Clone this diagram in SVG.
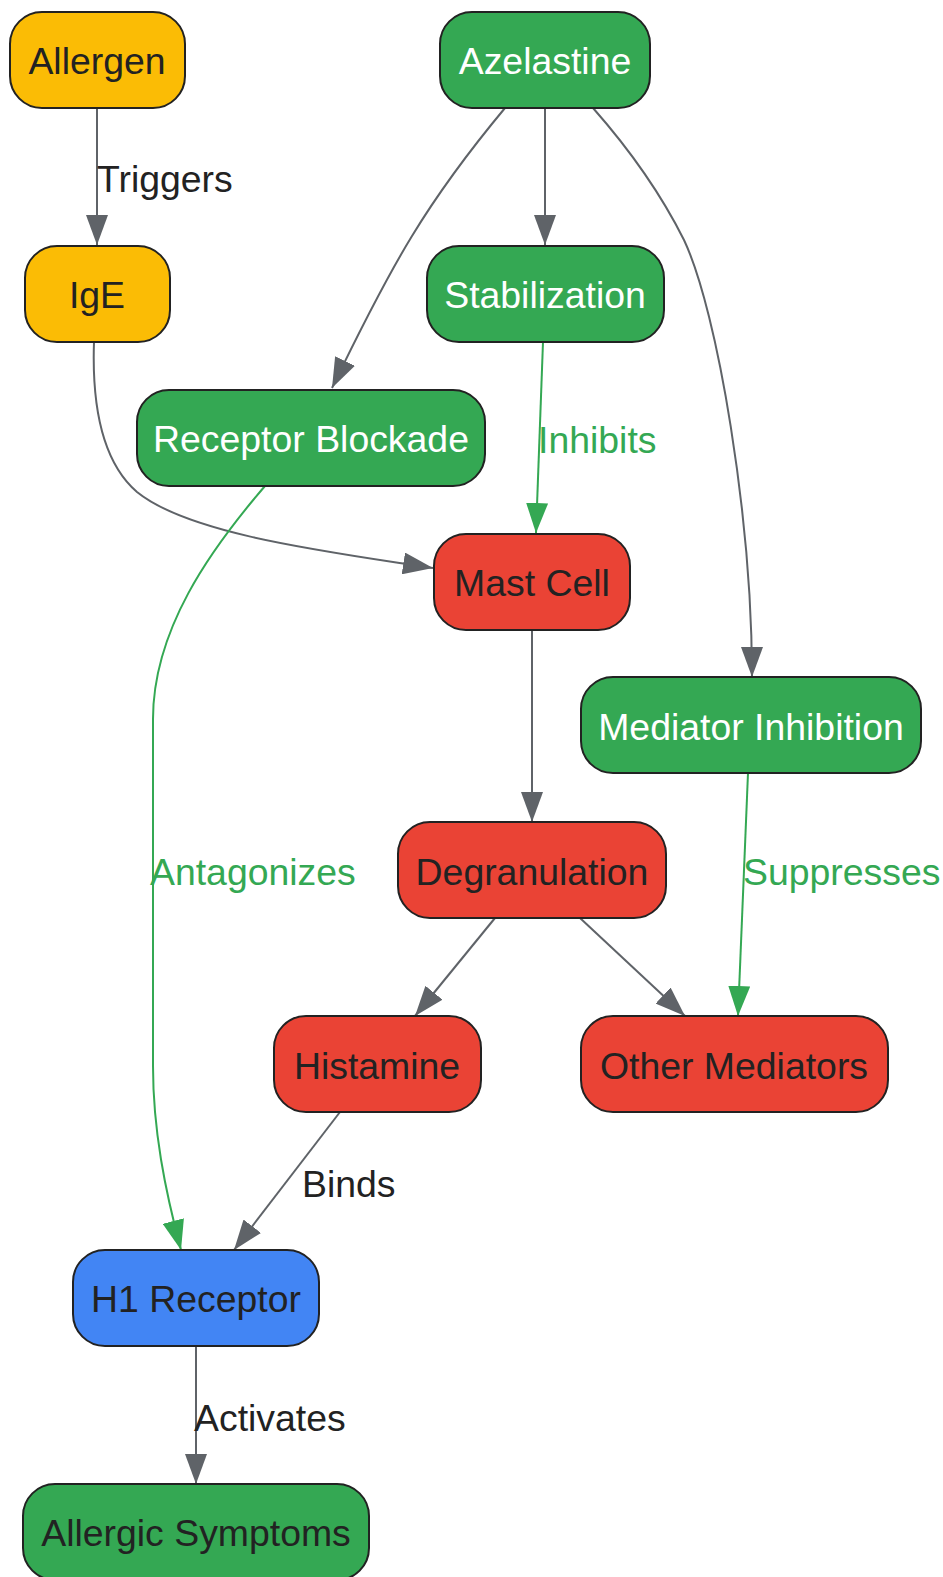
<svg xmlns="http://www.w3.org/2000/svg" width="943" height="1577" viewBox="0 0 943 1577">
<defs>
<style>
.n rect{stroke:#222;stroke-width:2}
.y rect{fill:#FBBC05}.g rect{fill:#34A853}.r rect{fill:#EA4335}.b rect{fill:#4285F4}
text{font-family:"Liberation Sans",Arial,sans-serif;font-size:37.4px}
.n text{text-anchor:middle;fill:#222}
.n.w text{fill:#fff}
.e{fill:none;stroke:#5F6368;stroke-width:2}
.eg{fill:none;stroke:#34A853;stroke-width:2}
.l{fill:#222}.lg{fill:#34A853}
</style>
<marker id="ag" markerUnits="userSpaceOnUse" markerWidth="30" markerHeight="22" refX="30" refY="11" orient="auto"><path d="M0,0L30,11L0,22z" fill="#5F6368"/></marker>
<marker id="agr" markerUnits="userSpaceOnUse" markerWidth="30" markerHeight="22" refX="30" refY="11" orient="auto"><path d="M0,0L30,11L0,22z" fill="#34A853"/></marker>
</defs>
<rect width="943" height="1577" fill="#fff"/>
<g id="connectors">
<path class="e" marker-end="url(#ag)" d="M97,108L97,245"/>
<path class="e" marker-end="url(#ag)" d="M545,108L545,245"/>
<path class="e" marker-end="url(#ag)" d="M505,108C470,150 440,190 412,236C390,272 360,330 332,388"/>
<path class="e" marker-end="url(#ag)" d="M593,108C630,150 660,192 684,240C718,312 752,520 752,677"/>
<path class="e" marker-end="url(#ag)" d="M94,342C92,400 100,460 137,492C190,535 330,552 433,568"/>
<path class="eg" marker-end="url(#agr)" d="M543,342L536,533"/>
<path class="eg" marker-end="url(#agr)" d="M265,486C210,550 153,630 153,719L153,1066C153,1130 165,1190 181,1250"/>
<path class="e" marker-end="url(#ag)" d="M532,630L532,822"/>
<path class="eg" marker-end="url(#agr)" d="M748,773L738,1016"/>
<path class="e" marker-end="url(#ag)" d="M495,918L415,1016"/>
<path class="e" marker-end="url(#ag)" d="M580,918L685,1016"/>
<path class="e" marker-end="url(#ag)" d="M340,1112L234,1250"/>
<path class="e" marker-end="url(#ag)" d="M196,1347L196,1484"/>
<text class="l" x="97" y="192">Triggers</text>
<text class="lg" x="538" y="453">Inhibits</text>
<text class="lg" x="150" y="885">Antagonizes</text>
<text class="lg" x="743" y="885">Suppresses</text>
<text class="l" x="302" y="1197">Binds</text>
<text class="l" x="194" y="1431">Activates</text>
</g>
<g id="allergen" class="n y"><rect x="10" y="12" width="175" height="96" rx="32"/><text x="97" y="74">Allergen</text></g>
<g id="azelastine" class="n g w"><rect x="440" y="12" width="210" height="96" rx="32"/><text x="545" y="74">Azelastine</text></g>
<g id="ige" class="n y"><rect x="25" y="246" width="145" height="96" rx="32"/><text x="97" y="308">IgE</text></g>
<g id="stabilization" class="n g w"><rect x="427" y="246" width="237" height="96" rx="32"/><text x="545" y="308">Stabilization</text></g>
<g id="receptor-blockade" class="n g w"><rect x="137" y="390" width="348" height="96" rx="32"/><text x="311" y="452">Receptor Blockade</text></g>
<g id="mast-cell" class="n r"><rect x="434" y="534" width="196" height="96" rx="32"/><text x="532" y="596">Mast Cell</text></g>
<g id="mediator-inhibition" class="n g w"><rect x="581" y="677" width="340" height="96" rx="32"/><text x="751" y="740">Mediator Inhibition</text></g>
<g id="degranulation" class="n r"><rect x="398" y="822" width="268" height="96" rx="32"/><text x="532" y="885">Degranulation</text></g>
<g id="histamine" class="n r"><rect x="274" y="1016" width="207" height="96" rx="32"/><text x="377" y="1079">Histamine</text></g>
<g id="other-mediators" class="n r"><rect x="581" y="1016" width="307" height="96" rx="32"/><text x="734" y="1079">Other Mediators</text></g>
<g id="h1-receptor" class="n b"><rect x="73" y="1250" width="246" height="96" rx="32"/><text x="196" y="1312">H1 Receptor</text></g>
<g id="allergic-symptoms" class="n g"><rect x="23" y="1484" width="346" height="96" rx="32"/><text x="196" y="1546">Allergic Symptoms</text></g>
</svg>
